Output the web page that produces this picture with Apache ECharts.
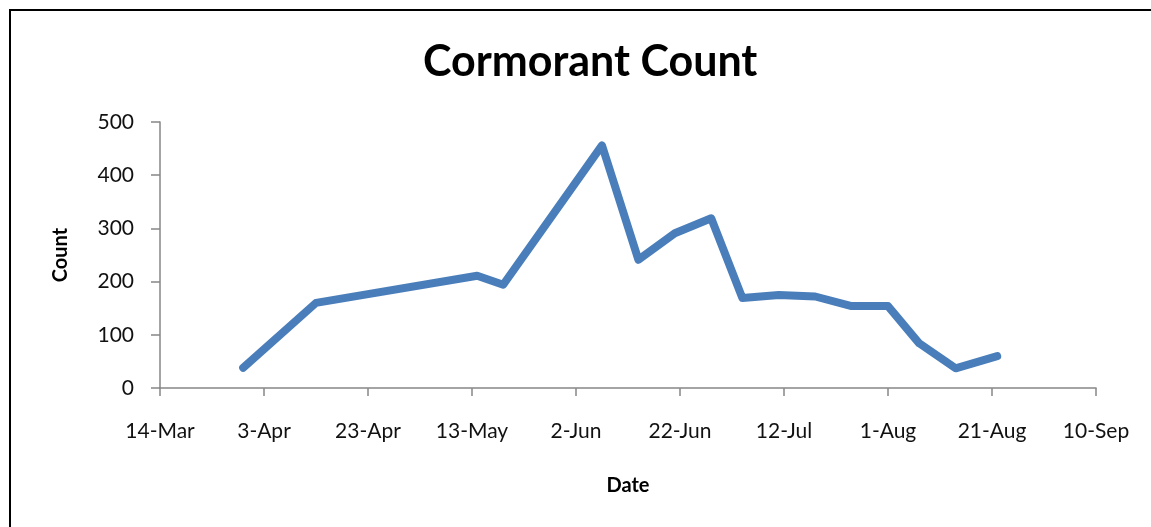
<!DOCTYPE html>
<html>
<head>
<meta charset="utf-8">
<script src="https://cdn.jsdelivr.net/npm/echarts@6/dist/echarts.min.js"></script>
<style>
  html, body { margin: 0; padding: 0; background: #fff; }
  #main { width: 1151px; height: 527px; }
</style>
</head>
<body>
<div id="main"></div>
<script>
  // survey dates and counts
  var dates = ['2009-03-30', '2009-04-13', '2009-05-14', '2009-05-19', '2009-06-07', '2009-06-14',
               '2009-06-21', '2009-06-28', '2009-07-04', '2009-07-11', '2009-07-18', '2009-07-25',
               '2009-08-01', '2009-08-07', '2009-08-14', '2009-08-22'];
  var counts = [38, 160, 211, 194, 456, 241, 291, 319, 169, 175, 172, 154, 154, 84, 37, 60];
  // x axis runs 14-Mar .. 10-Sep, a tick every 20 days
  var startDate = '2009-03-14';
  var dayStep = 20;
  var dayMax = 180;
  var months = ['Jan', 'Feb', 'Mar', 'Apr', 'May', 'Jun', 'Jul', 'Aug', 'Sep', 'Oct', 'Nov', 'Dec'];

  var DAY = 86400000;
  var t0 = Date.parse(startDate + 'T00:00:00Z');
  function dayOf(s) { return Math.round((Date.parse(s + 'T00:00:00Z') - t0) / DAY); }
  function fmtDay(d) {
    var dt = new Date(t0 + d * DAY);
    return dt.getUTCDate() + '-' + months[dt.getUTCMonth()];
  }

  var lineData = dates.map(function (d, i) { return [dayOf(d), counts[i]]; });

  var labelFont = 'Lato';
  var myChart = echarts.init(document.getElementById('main'));
  var option = {
    animation: false,
    backgroundColor: '#fff',
    title: {
      text: 'Cormorant Count',
      left: 418,
      top: 36,
      textStyle: { fontFamily: labelFont, fontWeight: 'bold', fontSize: 43, color: '#000' }
    },
    graphic: [{
      type: 'rect',
      shape: { x: 10, y: 10, width: 1160, height: 540 },
      style: { fill: null, stroke: '#000', lineWidth: 2 },
      silent: true
    }],
    grid: { left: 160, right: 55, top: 122, bottom: 139 },
    xAxis: {
      type: 'value',
      min: 0,
      max: dayMax,
      interval: dayStep,
      name: 'Date',
      nameLocation: 'middle',
      nameGap: 88,
      nameTextStyle: { fontFamily: labelFont, fontWeight: 'bold', fontSize: 20, color: '#000' },
      axisLine: { show: true, lineStyle: { color: '#868686', width: 1.5 } },
      axisTick: { show: true, length: 8, lineStyle: { color: '#868686', width: 1.5 } },
      axisLabel: {
        fontFamily: labelFont, fontSize: 21, color: '#111', margin: 33,
        formatter: function (v) { return fmtDay(v); }
      },
      splitLine: { show: false }
    },
    yAxis: {
      type: 'value',
      min: 0,
      max: 500,
      interval: 100,
      name: 'Count',
      nameLocation: 'middle',
      nameGap: 89,
      nameRotate: 90,
      nameTextStyle: { fontFamily: labelFont, fontWeight: 'bold', fontSize: 20, color: '#000' },
      axisLine: { show: true, lineStyle: { color: '#868686', width: 1.5 } },
      axisTick: { show: true, length: 9, lineStyle: { color: '#868686', width: 1.5 } },
      axisLabel: { fontFamily: labelFont, fontSize: 21, color: '#111', margin: 26 },
      splitLine: { show: false }
    },
    series: [{
      type: 'line',
      data: lineData,
      showSymbol: false,
      symbol: 'none',
      lineStyle: { color: '#4a7ebb', width: 8, cap: 'round', join: 'round' }
    }]
  };
  myChart.setOption(option);
</script>
</body>
</html>
